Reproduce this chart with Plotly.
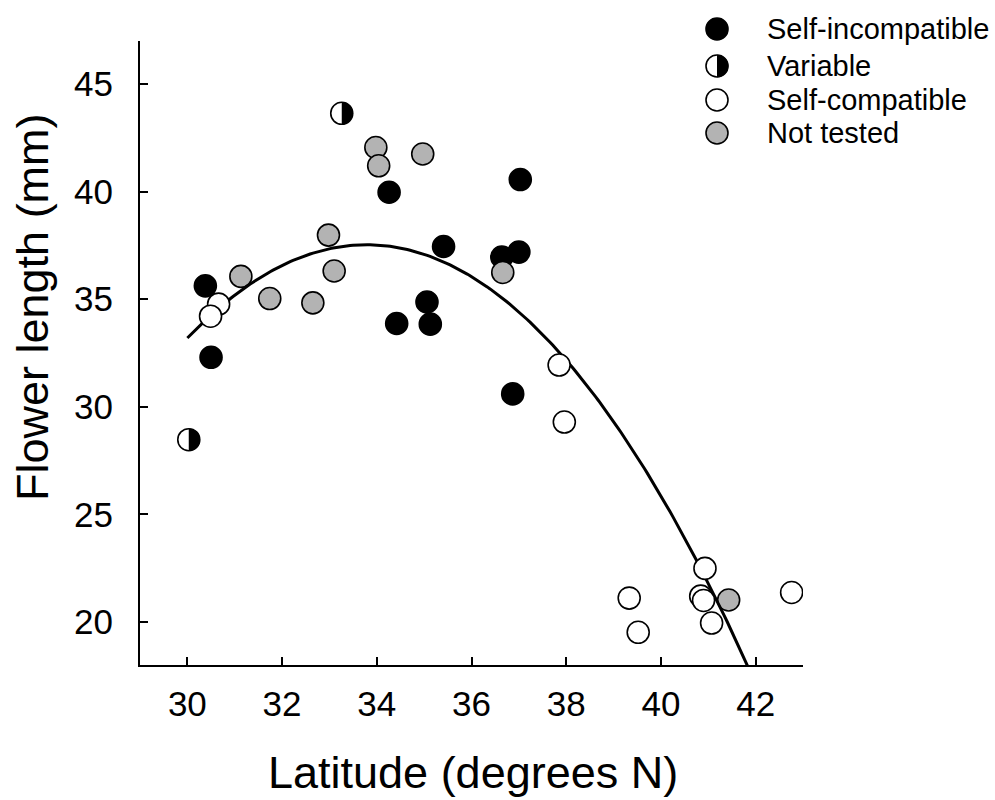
import numpy as np
import plotly.graph_objects as go

# ---- data ----
si_lat = [30.38, 30.50, 34.26, 34.42, 35.06, 35.13, 35.41, 36.64, 37.00, 37.03, 36.87]
si_len = [35.62, 32.30, 39.97, 33.87, 34.87, 33.84, 37.45, 36.96, 37.19, 40.56, 30.60]

var_lat = [30.03, 33.26]
var_len = [28.47, 43.64]

sc_lat = [30.66, 30.49, 37.85, 37.96, 39.33, 39.52, 40.93, 40.84, 40.90, 41.07, 42.76]
sc_len = [34.77, 34.21, 31.94, 29.29, 21.11, 19.52, 22.49, 21.20, 21.00, 19.95, 21.37]

nt_lat = [31.13, 31.74, 32.65, 32.98, 33.10, 33.98, 34.04, 34.97, 36.66, 41.43]
nt_len = [36.06, 35.03, 34.83, 37.98, 36.31, 42.05, 41.20, 41.75, 36.24, 21.02]

legend_labels = ["Self-incompatible", "Variable", "Self-compatible", "Not tested"]

x_ticks = [30, 32, 34, 36, 38, 40, 42]
y_ticks = [20, 25, 30, 35, 40, 45]

# quadratic fit through all populations
all_x = np.array(si_lat + var_lat + sc_lat + nt_lat)
all_y = np.array(si_len + var_len + sc_len + nt_len)
coef = np.polyfit(all_x, all_y, 2)
fit_x = np.linspace(30.0, 42.0, 200)
fit_y = np.polyval(coef, fit_x)

FONT = "Liberation Sans, Arial, sans-serif"
GREY = "#b3b3b3"
MS = 22
LW = 1.6

# page layout (figure px == page px; body margin removed in post_script)
W, H = 995, 800
L, R, T, B = 140, 192, 18, 135          # paper area
PLOT_TOP = 41                            # top of main plot area
paper_h = H - T - B
paper_w = W - L - R
main_ytop = (paper_h - (PLOT_TOP - T)) / paper_h

def fx(px):
    return (px - L) / paper_w

def fy(py):
    return (H - B - py) / paper_h

fig = go.Figure()

def add_pts(x, y, fill):
    fig.add_trace(go.Scatter(
        x=x, y=y, mode="markers", showlegend=False, hoverinfo="skip",
        marker=dict(symbol="circle", size=MS, color=fill,
                    line=dict(color="black", width=LW))))

add_pts(si_lat, si_len, "black")
add_pts(nt_lat, nt_len, GREY)
fig.add_trace(go.Scatter(x=fit_x, y=fit_y, mode="lines", showlegend=False,
                         hoverinfo="skip", line=dict(color="black", width=3)))
add_pts(sc_lat, sc_len, "white")
add_pts(var_lat, var_len, "white")

# half-filled (right half black) overlays for "Variable"
r = MS / 2 + 0.3
k = 0.5523 * r
half_path = (f"M 0,{-r} C {k},{-r} {r},{-k} {r},0 C {r},{k} {k},{r} 0,{r} Z")
shapes = []
for vx, vy in zip(var_lat, var_len):
    shapes.append(dict(type="path", xref="x", yref="y", xsizemode="pixel",
                       ysizemode="pixel", xanchor=vx, yanchor=vy,
                       path=half_path, fillcolor="black",
                       line=dict(width=0), layer="above"))

# ---- manual legend on a separate full-paper axis pair (page-pixel units) ----
leg_x = 717
leg_y = [29, 66, 100, 133]
leg_fill = ["black", "white", "white", GREY]
fig.add_trace(go.Scatter(
    x=[leg_x] * 4, y=leg_y, xaxis="x2", yaxis="y2", mode="markers",
    showlegend=False, hoverinfo="skip", cliponaxis=False,
    marker=dict(symbol="circle", size=MS, color=leg_fill,
                line=dict(color="black", width=LW))))
shapes.append(dict(type="path", xref="x2", yref="y2", xsizemode="pixel",
                   ysizemode="pixel", xanchor=leg_x, yanchor=leg_y[1],
                   path=half_path, fillcolor="black", line=dict(width=0),
                   layer="above"))

annotations = []
for lab, ly in zip(legend_labels, leg_y):
    annotations.append(dict(text=lab, xref="paper", yref="paper", x=fx(765),
                            y=fy(ly), xanchor="left", yanchor="middle",
                            showarrow=False,
                            font=dict(family=FONT, size=29, color="black")))

annotations.append(dict(text="Latitude (degrees N)", xref="paper", yref="paper",
                        x=fx(473), y=fy(772), xanchor="center", yanchor="middle",
                        showarrow=False,
                        font=dict(family=FONT, size=45, color="black")))
annotations.append(dict(text="Flower length (mm)", xref="paper", yref="paper",
                        x=fx(32), y=fy(307), xanchor="center", yanchor="middle",
                        textangle=-90, showarrow=False,
                        font=dict(family=FONT, size=45, color="black")))

axis_common = dict(ticks="inside", ticklen=8, tickwidth=2, tickcolor="black",
                   showline=True, linecolor="black", linewidth=2,
                   showgrid=False, zeroline=False, mirror=False,
                   tickfont=dict(family=FONT, size=35, color="black"))

fig.update_layout(
    width=W, height=H,
    margin=dict(l=L, r=R, t=T, b=B),
    paper_bgcolor="white", plot_bgcolor="rgba(0,0,0,0)",
    showlegend=False,
    shapes=shapes, annotations=annotations,
    font=dict(family=FONT, color="black"),
    xaxis=dict(range=[29, 43], tickvals=x_ticks, ticklabelstandoff=7,
               anchor="y", domain=[0, 1], **axis_common),
    yaxis=dict(range=[18, 47], tickvals=y_ticks, ticklabelstandoff=18,
               domain=[0, main_ytop], anchor="x", **axis_common),
    xaxis2=dict(range=[L, W - R], visible=False, domain=[0, 1], anchor="y2"),
    yaxis2=dict(range=[H - B, T], visible=False, domain=[0, 1], anchor="x2"),
)

fig.write_html(
    "out.html",
    config={"displayModeBar": False},
    post_script="document.body.style.margin='0px';"
                "document.body.style.overflow='hidden';",
)
